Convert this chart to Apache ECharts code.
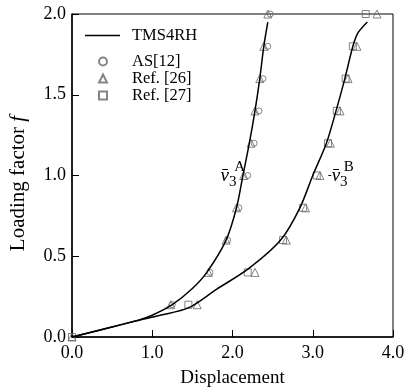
<!DOCTYPE html>
<html>
<head>
<meta charset="utf-8">
<script src="https://cdn.jsdelivr.net/npm/echarts@6/dist/echarts.min.js"></script>
<style>
  html, body { margin: 0; padding: 0; background: #fff; }
  #chart { width: 405px; height: 388px; }
</style>
</head>
<body>
<div id="chart"></div>
<script>
// TMS4RH curves [displacement, loading factor]
const curveA = [[0, 0], [0.4, 0.05], [0.8, 0.1], [1.0, 0.135], [1.25, 0.2], [1.5, 0.3], [1.68, 0.4],
  [1.92, 0.6], [2.05, 0.8], [2.13, 1.0], [2.21, 1.2], [2.28, 1.4], [2.34, 1.6], [2.39, 1.8], [2.44, 1.95]];
const curveB = [[0, 0], [0.4, 0.05], [0.8, 0.1], [1.1, 0.135], [1.45, 0.18], [1.8, 0.295], [2.2, 0.423],
  [2.6, 0.6], [2.84, 0.8], [3.0, 1.0], [3.17, 1.2], [3.29, 1.4], [3.4, 1.6], [3.5, 1.8],
  [3.56, 1.88], [3.68, 1.95]];
// reference points
const as12 = [[1.25, 0.2], [1.72, 0.4], [1.94, 0.6], [2.08, 0.8], [2.19, 1.0], [2.27, 1.2], [2.33, 1.4],
  [2.38, 1.6], [2.44, 1.8], [2.47, 2.0]];
const ref26 = [[0, 0], [1.23, 0.2], [1.7, 0.4], [1.92, 0.6], [2.05, 0.8], [2.14, 1.0], [2.23, 1.2],
  [2.28, 1.4], [2.34, 1.6], [2.39, 1.8], [2.44, 2.0],
  [1.56, 0.2], [2.28, 0.4], [2.67, 0.6], [2.91, 0.8], [3.09, 1.0], [3.22, 1.2], [3.34, 1.4],
  [3.44, 1.6], [3.55, 1.8], [3.8, 2.0]];
const ref27 = [[0, 0], [1.45, 0.2], [2.19, 0.4], [2.63, 0.6], [2.88, 0.8], [3.05, 1.0], [3.19, 1.2],
  [3.3, 1.4], [3.41, 1.6], [3.5, 1.8], [3.66, 2.0]];
const xTicks = ['0.0', '1.0', '2.0', '3.0', '4.0'];

const font = 'Liberation Serif';
const markerColor = '#666';

const chart = echarts.init(document.getElementById('chart'));

// label v-bar sub 3 with superscript letter
const vLabel = (coord, sup, prefix) => [
  {
    coord: coord,
    label: {
      formatter: (prefix || '') + '{v|v\u0304}{s|3}',
      rich: {
        v: { fontFamily: font, fontSize: 19, fontStyle: 'italic', color: '#000' },
        s: { fontFamily: font, fontSize: 15, color: '#000', padding: [14, 0, 0, 0] }
      }
    }
  },
  {
    coord: [coord[0] + 0.14, coord[1] + 0.05],
    label: { formatter: sup, fontFamily: font, fontSize: 15, color: '#000' }
  }
];

const lineSeries = (data, marks) => ({
  name: 'TMS4RH',
  type: 'line',
  data: data,
  smooth: 0.3,
  symbol: 'none',
  lineStyle: { color: '#000', width: 1.5 },
  itemStyle: { color: '#000' },
  z: 3,
  markPoint: {
    symbol: 'circle',
    symbolSize: 0,
    silent: true,
    label: { show: true, position: 'inside', fontFamily: font, color: '#000' },
    data: marks
  }
});

const pointSeries = (name, symbol, size, data) => ({
  name: name,
  type: 'scatter',
  symbol: symbol,
  symbolSize: size,
  data: data,
  itemStyle: { color: 'rgba(0,0,0,0)', borderColor: markerColor, borderWidth: 1 },
  z: 2
});

const legendText = { fontFamily: font, fontSize: 16.5, color: '#000' };

chart.setOption({
  animation: false,
  grid: {
    left: 72, right: 12, top: 14, bottom: 51,
    outerBoundsMode: 'none',
    show: true, borderColor: '#000', borderWidth: 1
  },
  legend: [
    {
      orient: 'vertical',
      left: 85,
      top: 27,
      padding: 0,
      itemWidth: 35,
      itemHeight: 1.5,
      textStyle: Object.assign({ padding: [8, 0, 0, 7] }, legendText),
      data: [{ name: 'TMS4RH', icon: 'rect' }]
    },
    {
      orient: 'vertical',
      left: 98,
      top: 53,
      padding: 0,
      itemWidth: 8,
      itemHeight: 8,
      itemGap: 0,
      textStyle: Object.assign({ padding: [0, 0, 0, 20] }, legendText),
      data: [
        { name: 'AS[12]', icon: 'circle' },
        { name: 'Ref. [26]', icon: 'triangle' },
        { name: 'Ref. [27]', icon: 'rect' }
      ]
    }
  ],
  xAxis: {
    type: 'value',
    min: 0, max: 4, interval: 1,
    name: 'Displacement',
    nameLocation: 'middle',
    nameGap: 32,
    nameTextStyle: { fontFamily: font, fontSize: 19, color: '#000' },
    axisLine: { lineStyle: { color: '#000', width: 1.5 } },
    axisTick: { inside: true, length: 7, lineStyle: { color: '#000' } },
    axisLabel: {
      margin: 7, fontFamily: font, fontSize: 18, color: '#000',
      formatter: (v) => xTicks[Math.round(v)]
    },
    splitLine: { show: false }
  },
  yAxis: {
    type: 'value',
    min: 0, max: 2, interval: 0.5,
    name: 'Loading factor {i|f}',
    nameLocation: 'middle',
    nameGap: 43,
    nameTextStyle: {
      fontFamily: font, fontSize: 21, color: '#000', padding: [0, 16, 0, 0],
      rich: { i: { fontFamily: font, fontSize: 21, fontStyle: 'italic', color: '#000' } }
    },
    axisLine: { lineStyle: { color: '#000', width: 1.5 } },
    axisTick: { inside: true, length: 7, lineStyle: { color: '#000' } },
    axisLabel: {
      margin: 6, fontFamily: font, fontSize: 18, color: '#000',
      formatter: (v) => v.toFixed(1)
    },
    splitLine: { show: false }
  },
  series: [
    lineSeries(curveA, vLabel([1.95, 1.0], 'A')),
    lineSeries(curveB, vLabel([3.31, 1.0], 'B', '-')),
    pointSeries('AS[12]', 'circle', 6, as12),
    pointSeries('Ref. [26]', 'triangle', 8, ref26),
    pointSeries('Ref. [27]', 'rect', 7, ref27)
  ]
});
</script>
</body>
</html>
